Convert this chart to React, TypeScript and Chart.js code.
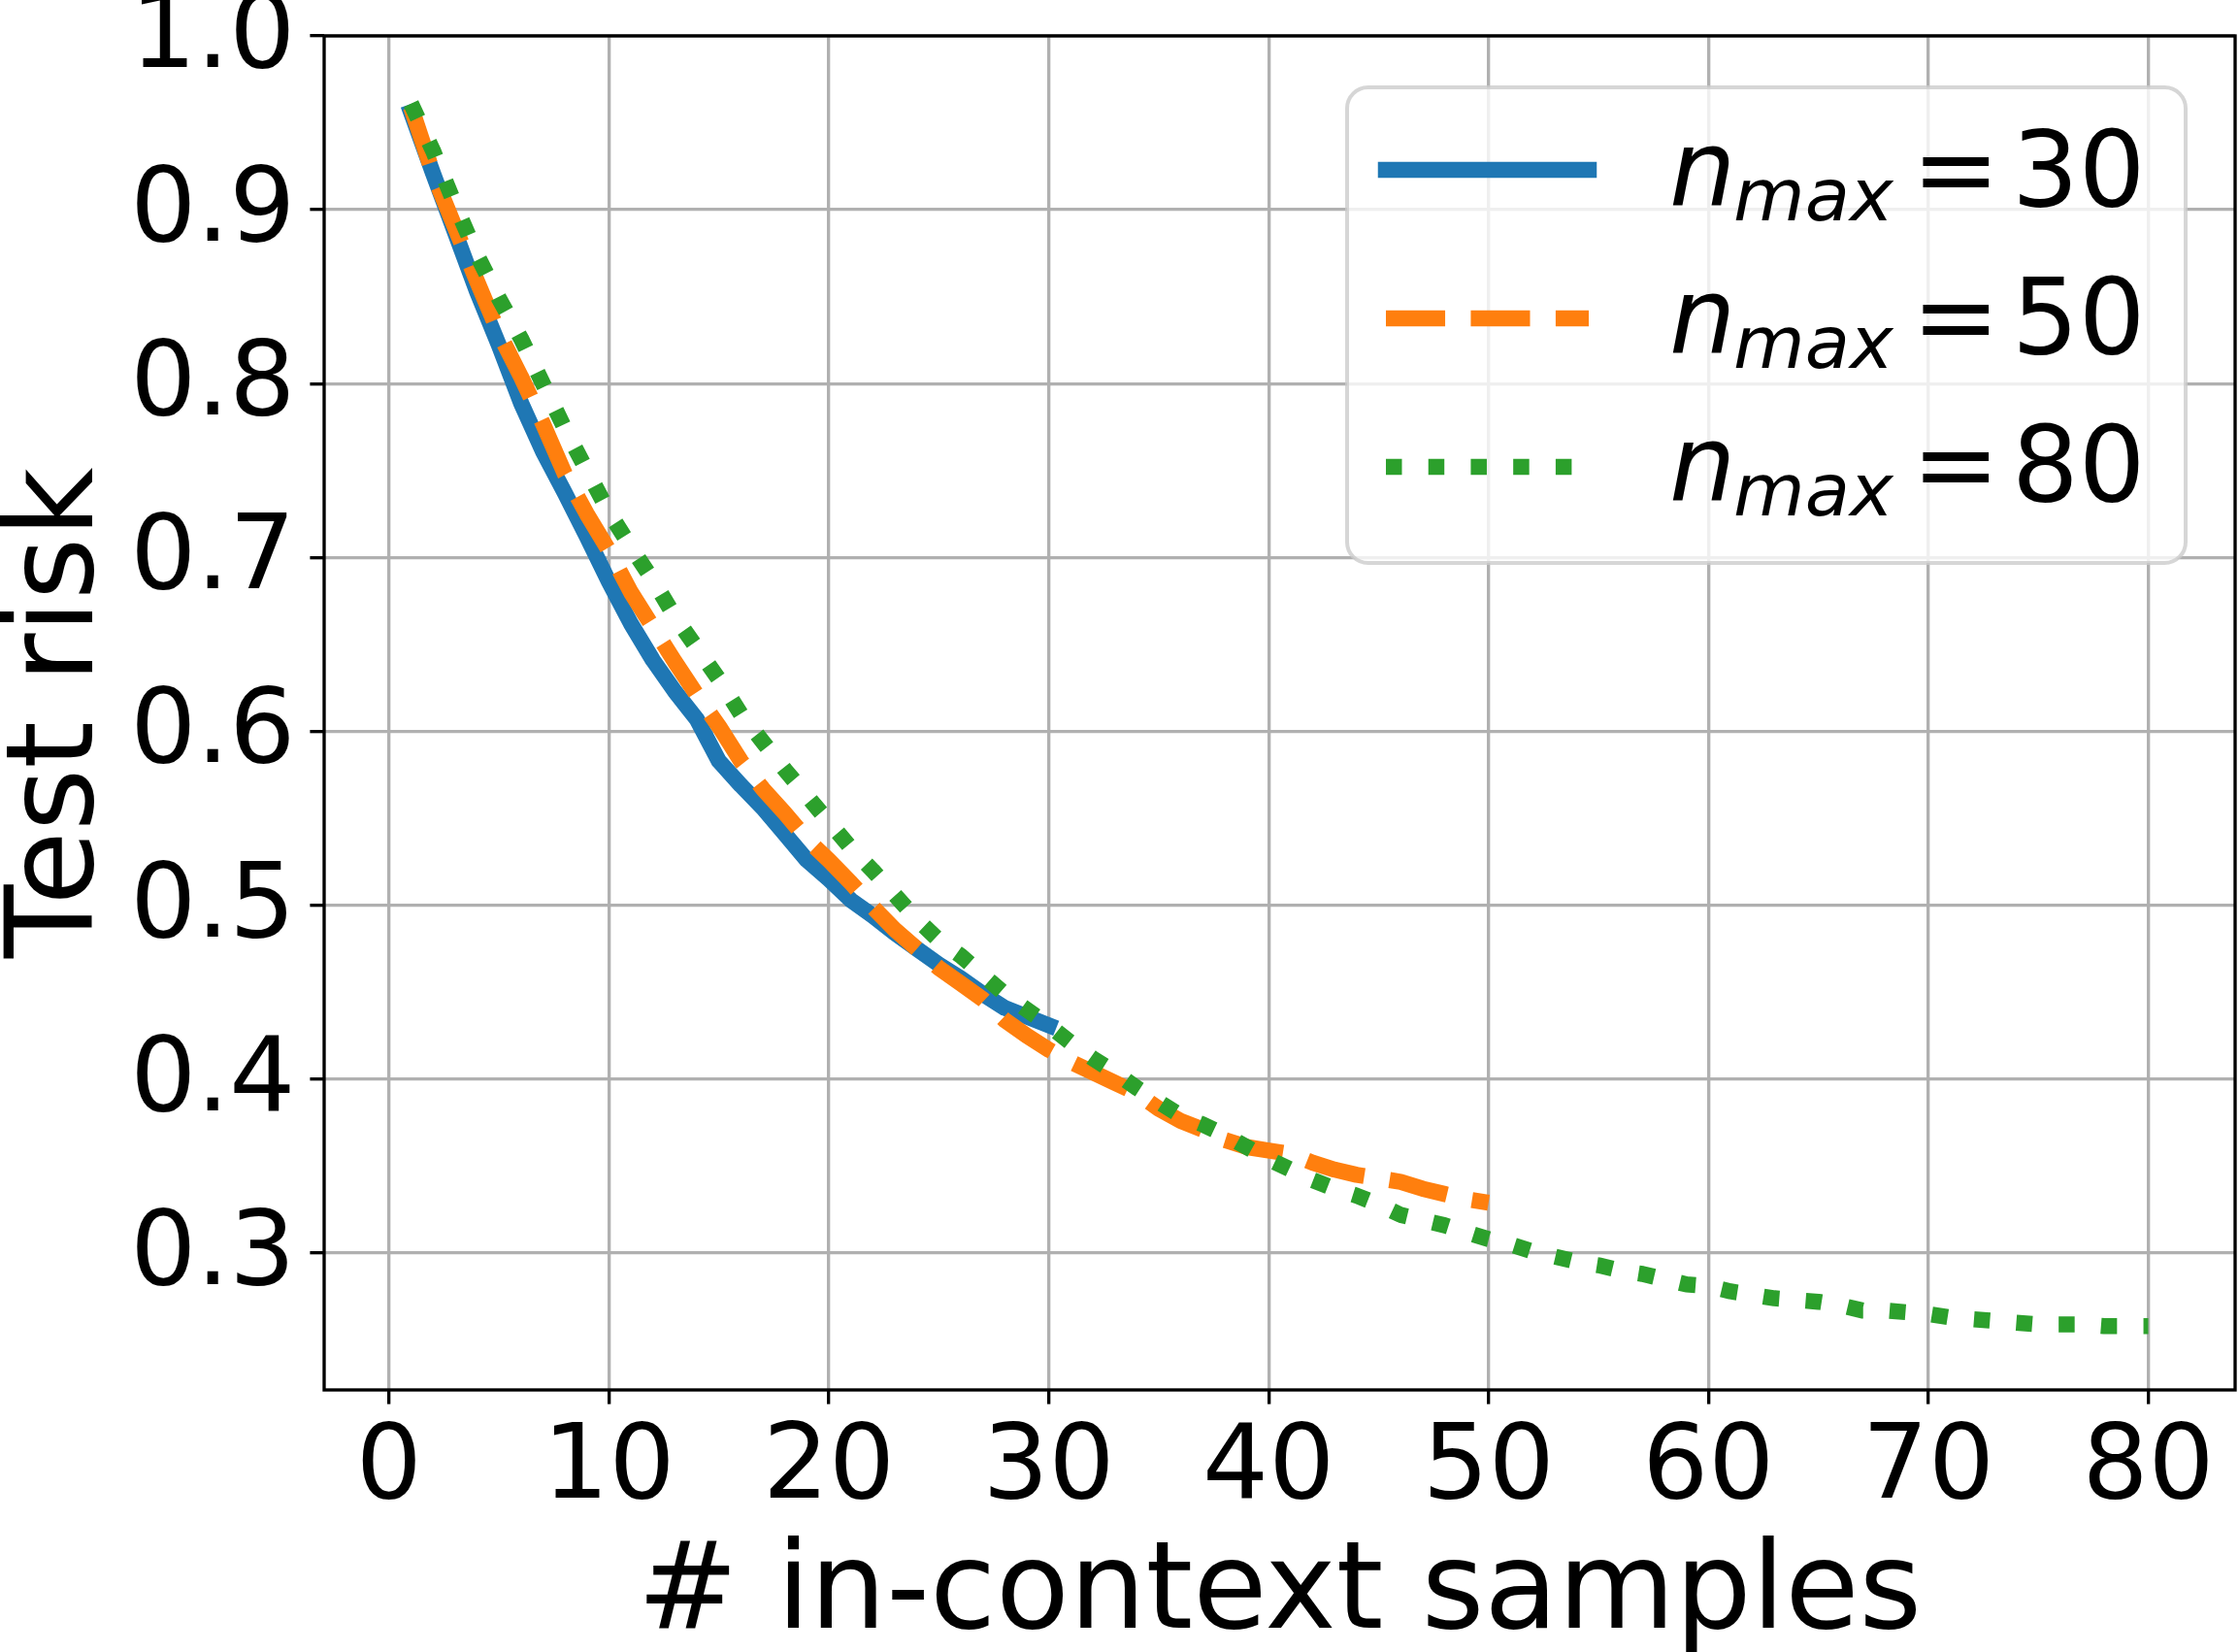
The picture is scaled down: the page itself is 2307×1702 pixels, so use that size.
import { useEffect, useRef } from "react";
import { Chart, registerables } from "chart.js";

Chart.register(...registerables);

// ---- data (test risk vs. number of in-context samples, x = 1..n_max) ----
const riskNmax30 = [
  0.956, 0.921, 0.887, 0.853, 0.822, 0.789, 0.761, 0.737, 0.712, 0.686,
  0.662, 0.641, 0.623, 0.607, 0.583, 0.569, 0.556, 0.541, 0.526, 0.515,
  0.503, 0.494, 0.484, 0.475, 0.466, 0.458, 0.449, 0.441, 0.436, 0.431,
];
const riskNmax50 = [
  0.959, 0.921, 0.89, 0.859, 0.829, 0.804, 0.777, 0.748, 0.725, 0.704,
  0.68, 0.66, 0.64, 0.621, 0.603, 0.583, 0.567, 0.553, 0.538, 0.526,
  0.513, 0.499, 0.486, 0.475, 0.464, 0.455, 0.446, 0.434, 0.425, 0.417,
  0.41, 0.404, 0.398, 0.392, 0.383, 0.376, 0.371, 0.365, 0.361, 0.359,
  0.357, 0.352, 0.348, 0.345, 0.343, 0.341, 0.337, 0.334, 0.331, 0.329,
];
const riskNmax80 = [
  0.961, 0.934, 0.903, 0.874, 0.849, 0.826, 0.8, 0.774, 0.75, 0.726,
  0.706, 0.687, 0.666, 0.648, 0.63, 0.61, 0.594, 0.578, 0.563, 0.548,
  0.533, 0.52, 0.506, 0.492, 0.48, 0.471, 0.46, 0.449, 0.44, 0.431,
  0.421, 0.412, 0.404, 0.395, 0.387, 0.379, 0.374, 0.368, 0.361, 0.354,
  0.348, 0.342, 0.337, 0.333, 0.328, 0.322, 0.319, 0.316, 0.312, 0.308,
  0.305, 0.301, 0.298, 0.295, 0.293, 0.29, 0.288, 0.285, 0.282, 0.281,
  0.278, 0.276, 0.274, 0.273, 0.272, 0.27, 0.267, 0.267, 0.266, 0.265,
  0.263, 0.262, 0.261, 0.26, 0.259, 0.259, 0.259, 0.258, 0.258, 0.258,
];
const nMaxLabels = ["30", "50", "80"];
const xTickValues = [0, 10, 20, 30, 40, 50, 60, 70, 80];
const yTickValues = [0.3, 0.4, 0.5, 0.6, 0.7, 0.8, 0.9, 1.0];
const xAxisTitle = "# in-context samples";
const yAxisTitle = "Test risk";

const toPoints = (arr: number[]) => arr.map((y, i) => ({ x: i + 1, y }));

const FONT = '"DejaVu Sans", "Noto Sans", sans-serif';
const LW = 16.5;
const styles = [
  { color: "#1f77b4", dash: [] as number[], cap: "square" as CanvasLineCap },
  { color: "#ff7f0e", dash: [3.7 * LW, 1.6 * LW], cap: "butt" as CanvasLineCap },
  { color: "#2ca02c", dash: [1 * LW, 1.65 * LW], cap: "butt" as CanvasLineCap },
];

const decorPlugin = {
  id: "decor",
  afterDatasetsDraw(chart: any) {
    const { ctx, chartArea } = chart;
    ctx.save();
    ctx.strokeStyle = "#000";
    ctx.lineWidth = 3.33;
    ctx.strokeRect(
      chartArea.left,
      chartArea.top,
      chartArea.right - chartArea.left,
      chartArea.bottom - chartArea.top
    );
    ctx.restore();
  },
  afterDraw(chart: any) {
    const { ctx, chartArea } = chart;
    ctx.save();
    // axis titles
    ctx.fillStyle = "#000";
    ctx.font = `124px ${FONT}`;
    ctx.textAlign = "center";
    ctx.textBaseline = "alphabetic";
    ctx.fillText(xAxisTitle, (chartArea.left + chartArea.right) / 2, 1677);
    ctx.save();
    ctx.translate(95, (chartArea.top + chartArea.bottom) / 2);
    ctx.rotate(-Math.PI / 2);
    ctx.fillText(yAxisTitle, 0, 0);
    ctx.restore();

    // legend box
    const bx = 1388, by = 90, bw = 2252 - 1388, bh = 580 - 90, r = 21.6;
    ctx.beginPath();
    ctx.moveTo(bx + r, by);
    ctx.lineTo(bx + bw - r, by);
    ctx.arcTo(bx + bw, by, bx + bw, by + r, r);
    ctx.lineTo(bx + bw, by + bh - r);
    ctx.arcTo(bx + bw, by + bh, bx + bw - r, by + bh, r);
    ctx.lineTo(bx + r, by + bh);
    ctx.arcTo(bx, by + bh, bx, by + bh - r, r);
    ctx.lineTo(bx, by + r);
    ctx.arcTo(bx, by, bx + r, by, r);
    ctx.closePath();
    ctx.fillStyle = "rgba(255,255,255,0.8)";
    ctx.fill();
    ctx.strokeStyle = "rgba(204,204,204,0.8)";
    ctx.lineWidth = 4;
    ctx.stroke();

    const lineY = [175, 328, 481];
    const baseY = [212, 364, 516];
    nMaxLabels.forEach((lab, i) => {
      const s = styles[i];
      ctx.save();
      ctx.strokeStyle = s.color;
      ctx.lineWidth = LW;
      ctx.lineCap = s.cap;
      ctx.setLineDash(s.dash);
      ctx.beginPath();
      ctx.moveTo(1428, lineY[i]);
      ctx.lineTo(1637, lineY[i]);
      ctx.stroke();
      ctx.restore();

      ctx.fillStyle = "#000";
      ctx.textAlign = "left";
      ctx.textBaseline = "alphabetic";
      ctx.font = `italic 108px ${FONT}`;
      ctx.fillText("n", 1720, baseY[i]);
      ctx.font = `italic 75.6px ${FONT}`;
      ctx.fillText("max", 1786, baseY[i] + 15);
      ctx.font = `108px ${FONT}`;
      ctx.fillText("=", 1970, baseY[i]);
      ctx.fillText(lab, 2073, baseY[i]);
    });
    ctx.restore();
  },
};

export default function App() {
  const ref = useRef<HTMLCanvasElement | null>(null);
  useEffect(() => {
    if (!ref.current) return;
    const gridCommon = {
      color: "#b0b0b0",
      lineWidth: 3.33,
      tickColor: "#000",
      tickWidth: 3.33,
      tickLength: 14.6,
      drawTicks: true,
    };
    const zeroPad = (s: any) => {
      s.paddingTop = 0;
      s.paddingBottom = 0;
      s.paddingLeft = 0;
      s.paddingRight = 0;
    };
    const chart = new Chart(ref.current, {
      type: "line",
      data: {
        datasets: [riskNmax30, riskNmax50, riskNmax80].map((arr, i) => ({
          label: `n_max = ${nMaxLabels[i]}`,
          data: toPoints(arr),
          borderColor: styles[i].color,
          backgroundColor: styles[i].color,
          borderWidth: LW,
          borderDash: styles[i].dash,
          borderCapStyle: styles[i].cap,
          borderJoinStyle: "round",
          pointRadius: 0,
          tension: 0,
          fill: false,
          order: 2 - i,
        })),
      },
      options: {
        animation: false,
        responsive: false,
        devicePixelRatio: 1,
        layout: { padding: { top: 37, right: 4, left: 0, bottom: 0 } },
        plugins: { legend: { display: false }, tooltip: { enabled: false } },
        scales: {
          x: {
            type: "linear",
            min: -2.95,
            max: 83.95,
            afterBuildTicks: (s: any) => {
              s.ticks = xTickValues.map((v) => ({ value: v }));
            },
            afterFit: (s: any) => {
              s.height = 270;
              zeroPad(s);
            },
            ticks: {
              color: "#000",
              font: { family: FONT, size: 107 },
              padding: 4,
              maxRotation: 0,
              autoSkip: false,
              callback: (v: any) => String(v),
            },
            grid: gridCommon,
            border: { display: false },
          },
          y: {
            type: "linear",
            min: 0.2213,
            max: 1.0,
            afterBuildTicks: (s: any) => {
              s.ticks = yTickValues.map((v) => ({ value: v }));
            },
            afterFit: (s: any) => {
              s.width = 334;
              zeroPad(s);
            },
            ticks: {
              color: "#000",
              font: { family: FONT, size: 107 },
              padding: 15,
              labelOffset: 4,
              autoSkip: false,
              callback: (v: any) => Number(v).toFixed(1),
            },
            grid: gridCommon,
            border: { display: false },
          },
        },
      } as any,
      plugins: [decorPlugin],
    });
    return () => chart.destroy();
  }, []);
  return (
    <div style={{ position: "absolute", left: 0, top: 0, width: 2307, height: 1702, background: "#fff" }}>
      <canvas ref={ref} width={2307} height={1702} style={{ display: "block" }} />
    </div>
  );
}
